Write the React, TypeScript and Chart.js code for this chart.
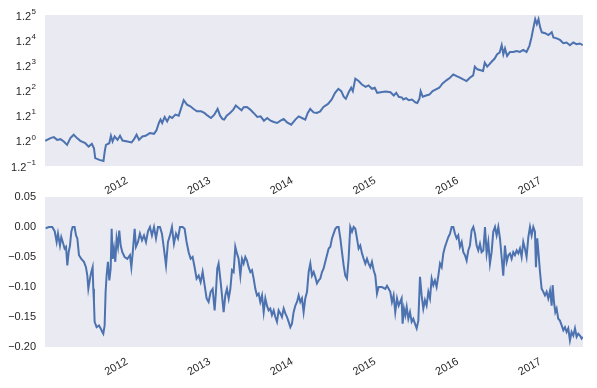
import React, { useEffect, useRef } from "react";
import { Chart, registerables } from "chart.js";
Chart.register(...registerables);

// ---------- data ----------
const YEAR_TICKS = [2012, 2013, 2014, 2015, 2016, 2017];
const X_MIN = 2011.033;
const X_MAX = 2017.538;

const LOG_BASE = 1.2;
const TOP_EXPONENTS = [-1, 0, 1, 2, 3, 4, 5];
const DD_TICKS = [0.05, 0, -0.05, -0.1, -0.15, -0.2];

const TOP_DATES = [
  2011.035, 2011.1, 2011.14, 2011.18, 2011.22, 2011.26, 2011.3, 2011.34, 2011.38, 2011.42,
  2011.46, 2011.52, 2011.56, 2011.6, 2011.625, 2011.64, 2011.69, 2011.74, 2011.755, 2011.77,
  2011.81, 2011.83, 2011.85, 2011.875, 2011.91, 2011.94, 2011.97, 2012.03, 2012.08, 2012.11,
  2012.14, 2012.17, 2012.21, 2012.25, 2012.3, 2012.35, 2012.38, 2012.41, 2012.43, 2012.45,
  2012.48, 2012.51, 2012.54, 2012.57, 2012.61, 2012.65, 2012.68, 2012.71, 2012.75, 2012.79,
  2012.83, 2012.87, 2012.92, 2012.96, 2013.0, 2013.04, 2013.08, 2013.12, 2013.15, 2013.18,
  2013.2, 2013.23, 2013.27, 2013.31, 2013.34, 2013.375, 2013.41, 2013.435, 2013.475, 2013.515,
  2013.555, 2013.6, 2013.64, 2013.68, 2013.72, 2013.76, 2013.8, 2013.84, 2013.88, 2013.92,
  2013.96, 2014.01, 2014.06, 2014.1, 2014.14, 2014.18, 2014.21, 2014.24, 2014.28, 2014.32,
  2014.36, 2014.4, 2014.455, 2014.5, 2014.54, 2014.58, 2014.615, 2014.645, 2014.67, 2014.705,
  2014.735, 2014.755, 2014.785, 2014.825, 2014.865, 2014.91, 2014.945, 2014.985, 2015.02, 2015.05,
  2015.09, 2015.15, 2015.21, 2015.25, 2015.28, 2015.31, 2015.35, 2015.365, 2015.4, 2015.43,
  2015.47, 2015.51, 2015.535, 2015.56, 2015.575, 2015.6, 2015.64, 2015.68, 2015.72, 2015.76,
  2015.8, 2015.84, 2015.89, 2015.93, 2015.97, 2016.01, 2016.05, 2016.09, 2016.13, 2016.17,
  2016.21, 2016.23, 2016.26, 2016.29, 2016.33, 2016.35, 2016.38, 2016.405, 2016.43, 2016.47,
  2016.5, 2016.53, 2016.555, 2016.575, 2016.595, 2016.62, 2016.655, 2016.695, 2016.735, 2016.775,
  2016.815, 2016.855, 2016.89, 2016.915, 2016.935, 2016.96, 2016.98, 2017.0, 2017.02, 2017.04,
  2017.08, 2017.12, 2017.16, 2017.18, 2017.22, 2017.26, 2017.3, 2017.34, 2017.38, 2017.42,
  2017.46, 2017.5, 2017.535,
];
const TOP_VALUES = [
  1.0, 1.02, 1.027, 1.007, 1.012, 0.995, 0.971, 1.02, 1.045, 1.02,
  1.0, 0.983, 0.959, 0.978, 0.948, 0.882, 0.871, 0.864, 0.925, 0.971,
  0.983, 1.037, 0.995, 1.032, 1.007, 1.037, 1.002, 0.995, 0.988, 1.012,
  1.045, 1.007, 1.032, 1.037, 1.058, 1.052, 1.078, 1.138, 1.166, 1.138,
  1.189, 1.151, 1.194, 1.18, 1.209, 1.2, 1.269, 1.342, 1.3, 1.284,
  1.26, 1.238, 1.238, 1.224, 1.2, 1.18, 1.209, 1.26, 1.2, 1.171,
  1.166, 1.2, 1.224, 1.254, 1.291, 1.269, 1.247, 1.275, 1.278, 1.254,
  1.224, 1.189, 1.194, 1.157, 1.18, 1.157, 1.146, 1.138, 1.157, 1.171,
  1.143, 1.124, 1.166, 1.194, 1.18, 1.166, 1.224, 1.26, 1.229, 1.224,
  1.238, 1.278, 1.307, 1.349, 1.416, 1.458, 1.433, 1.376, 1.356, 1.422,
  1.469, 1.433, 1.569, 1.542, 1.504, 1.479, 1.494, 1.458, 1.469, 1.416,
  1.422, 1.429, 1.422, 1.389, 1.416, 1.376, 1.368, 1.349, 1.362, 1.342,
  1.349, 1.322, 1.316, 1.356, 1.433, 1.376, 1.389, 1.398, 1.433, 1.451,
  1.469, 1.515, 1.553, 1.58, 1.618, 1.599, 1.58, 1.56, 1.542, 1.58,
  1.607, 1.712, 1.679, 1.67, 1.658, 1.762, 1.712, 1.74, 1.77, 1.815,
  1.872, 1.896, 2.0, 1.872, 1.952, 1.85, 1.904, 1.904, 1.918, 1.904,
  1.932, 1.904, 1.99, 2.115, 2.247, 2.415, 2.331, 2.415, 2.275, 2.195,
  2.181, 2.151, 2.195, 2.115, 2.101, 2.077, 2.029, 2.039, 2.0, 2.039,
  2.014, 2.025, 2.0,
];

const DD_DATES = [
  2011.041, 2011.081, 2011.121, 2011.15, 2011.174, 2011.19, 2011.214, 2011.23, 2011.254, 2011.27,
  2011.287, 2011.303, 2011.319, 2011.335, 2011.351, 2011.367, 2011.391, 2011.408, 2011.424, 2011.444,
  2011.472, 2011.504, 2011.528, 2011.545, 2011.557, 2011.577, 2011.593, 2011.609, 2011.617, 2011.625,
  2011.633, 2011.657, 2011.686, 2011.706, 2011.726, 2011.738, 2011.754, 2011.766, 2011.778, 2011.794,
  2011.811, 2011.827, 2011.839, 2011.851, 2011.867, 2011.883, 2011.899, 2011.915, 2011.931, 2011.948,
  2011.968, 2011.996, 2012.028, 2012.06, 2012.077, 2012.093, 2012.117, 2012.133, 2012.157, 2012.181,
  2012.206, 2012.23, 2012.254, 2012.278, 2012.302, 2012.326, 2012.351, 2012.375, 2012.399, 2012.423,
  2012.447, 2012.471, 2012.496, 2012.52, 2012.544, 2012.568, 2012.592, 2012.617, 2012.641, 2012.665,
  2012.697, 2012.721, 2012.745, 2012.77, 2012.794, 2012.818, 2012.842, 2012.866, 2012.891, 2012.915,
  2012.939, 2012.963, 2012.987, 2013.011, 2013.036, 2013.06, 2013.084, 2013.1, 2013.116, 2013.132,
  2013.157, 2013.193, 2013.213, 2013.233, 2013.254, 2013.274, 2013.294, 2013.314, 2013.334, 2013.354,
  2013.374, 2013.395, 2013.415, 2013.435, 2013.455, 2013.475, 2013.495, 2013.516, 2013.536, 2013.556,
  2013.576, 2013.596, 2013.616, 2013.636, 2013.657, 2013.677, 2013.697, 2013.717, 2013.737, 2013.757,
  2013.777, 2013.798, 2013.818, 2013.838, 2013.858, 2013.878, 2013.898, 2013.919, 2013.939, 2013.959,
  2013.979, 2013.999, 2014.019, 2014.039, 2014.06, 2014.08, 2014.1, 2014.12, 2014.14, 2014.16,
  2014.18, 2014.201, 2014.221, 2014.241, 2014.261, 2014.281, 2014.301, 2014.321, 2014.342, 2014.362,
  2014.382, 2014.402, 2014.422, 2014.442, 2014.463, 2014.483, 2014.503, 2014.523, 2014.543, 2014.563,
  2014.583, 2014.604, 2014.624, 2014.644, 2014.664, 2014.684, 2014.704, 2014.724, 2014.745, 2014.765,
  2014.785, 2014.805, 2014.825, 2014.845, 2014.866, 2014.886, 2014.906, 2014.926, 2014.946, 2014.966,
  2014.986, 2015.007, 2015.027, 2015.047, 2015.067, 2015.087, 2015.107, 2015.148, 2015.168, 2015.188,
  2015.208, 2015.228, 2015.248, 2015.268, 2015.289, 2015.309, 2015.345, 2015.357, 2015.373, 2015.39,
  2015.406, 2015.426, 2015.446, 2015.466, 2015.486, 2015.506, 2015.527, 2015.547, 2015.567, 2015.587,
  2015.607, 2015.627, 2015.647, 2015.668, 2015.688, 2015.708, 2015.728, 2015.748, 2015.768, 2015.789,
  2015.809, 2015.829, 2015.849, 2015.869, 2015.889, 2015.909, 2015.93, 2015.95, 2015.97, 2015.99,
  2016.01, 2016.03, 2016.05, 2016.071, 2016.091, 2016.111, 2016.131, 2016.151, 2016.171, 2016.191,
  2016.212, 2016.232, 2016.252, 2016.272, 2016.292, 2016.312, 2016.333, 2016.353, 2016.373, 2016.393,
  2016.413, 2016.433, 2016.453, 2016.474, 2016.494, 2016.514, 2016.534, 2016.554, 2016.574, 2016.594,
  2016.615, 2016.635, 2016.655, 2016.675, 2016.695, 2016.715, 2016.736, 2016.756, 2016.776, 2016.796,
  2016.816, 2016.836, 2016.856, 2016.877, 2016.897, 2016.917, 2016.937, 2016.957, 2016.969, 2016.985,
  2017.002, 2017.018, 2017.038, 2017.058, 2017.078, 2017.098, 2017.118, 2017.139, 2017.159, 2017.171,
  2017.187, 2017.203, 2017.219, 2017.239, 2017.259, 2017.28, 2017.3, 2017.32, 2017.34, 2017.36,
  2017.38, 2017.4, 2017.421, 2017.441, 2017.461, 2017.481, 2017.501, 2017.521, 2017.535,
];
const DD_VALUES = [
  -0.002, 0, 0, -0.007, -0.025, -0.011, -0.031, -0.017, -0.028, -0.036,
  -0.033, -0.064, -0.042, -0.031, -0.008, 0, 0, -0.014, -0.019, -0.047,
  -0.053, -0.058, -0.067, -0.081, -0.103, -0.086, -0.075, -0.067, -0.103, -0.125,
  -0.158, -0.167, -0.164, -0.169, -0.175, -0.178, -0.164, -0.108, -0.081, -0.058,
  -0.089, -0.069, -0.003, -0.053, -0.036, -0.058, -0.019, -0.033, -0.006, -0.031,
  -0.042, -0.05, -0.053, -0.047, -0.067, -0.044, -0.003, -0.033, -0.025, -0.011,
  -0.022, -0.014, -0.025, -0.007, 0, -0.014, 0, -0.019, 0, 0,
  -0.011, -0.036, -0.064, -0.025, -0.014, 0, -0.028, -0.011, -0.019, 0,
  0, -0.003, -0.025, -0.042, -0.053, -0.05, -0.067, -0.086, -0.081, -0.092,
  -0.075, -0.097, -0.119, -0.125, -0.108, -0.103, -0.139, -0.108, -0.069, -0.061,
  -0.092, -0.142, -0.114, -0.103, -0.119, -0.103, -0.072, -0.075, -0.033, -0.044,
  -0.053, -0.081, -0.053, -0.061, -0.05, -0.056, -0.067, -0.075, -0.072, -0.086,
  -0.103, -0.114, -0.111, -0.125, -0.114, -0.142, -0.119, -0.131, -0.139, -0.136,
  -0.147, -0.139, -0.15, -0.158, -0.139, -0.144, -0.15, -0.136, -0.144, -0.15,
  -0.158, -0.167, -0.161, -0.142, -0.131, -0.125, -0.114, -0.125, -0.119, -0.142,
  -0.119, -0.108, -0.075, -0.061, -0.081, -0.075, -0.083, -0.094, -0.089, -0.086,
  -0.075, -0.069, -0.058, -0.047, -0.036, -0.033, -0.019, -0.011, -0.003, 0,
  0, -0.019, -0.042, -0.064, -0.081, -0.086, -0.053, 0, -0.008, 0,
  -0.003, -0.019, -0.036, -0.031, -0.044, -0.053, -0.061, -0.053, -0.061, -0.067,
  -0.058, -0.072, -0.081, -0.111, -0.1, -0.1, -0.1, -0.103, -0.098, -0.103,
  -0.108, -0.125, -0.114, -0.142, -0.119, -0.131, -0.119, -0.161, -0.136, -0.147,
  -0.133, -0.153, -0.142, -0.158, -0.153, -0.161, -0.169, -0.156, -0.083, -0.114,
  -0.136, -0.122, -0.131, -0.108, -0.119, -0.086, -0.097, -0.089, -0.1, -0.081,
  -0.061, -0.067, -0.044, -0.033, -0.025, -0.017, -0.011, 0, 0, -0.011,
  -0.019, -0.014, -0.033, -0.025, -0.042, -0.047, -0.056, -0.039, -0.031, -0.006,
  0, -0.011, -0.031, -0.039, -0.028, -0.042, -0.039, 0, -0.044, -0.025,
  -0.061, -0.042, -0.008, 0, -0.014, 0, -0.019, -0.05, -0.081, -0.031,
  -0.058, -0.047, -0.044, -0.053, -0.042, -0.047, -0.039, -0.044, -0.036, -0.05,
  -0.025, -0.036, -0.05, -0.017, 0, -0.014, 0, -0.008, -0.067, -0.019,
  -0.047, -0.075, -0.103, -0.108, -0.114, -0.108, -0.119, -0.106, -0.131, -0.097,
  -0.125, -0.142, -0.136, -0.153, -0.156, -0.164, -0.172, -0.167, -0.175, -0.169,
  -0.189, -0.175, -0.181, -0.169, -0.183, -0.178, -0.181, -0.186, -0.183,
];

// ---------- style ----------
const W = 597;
const H = 388;
const X_AXIS_H = 34;
const FONT = '"Liberation Sans", Arial, "DejaVu Sans", sans-serif';
const TEXT = "#262626";
const LINE = "#4C72B0";
const FACE = "#EAEAF2";

const bgPlugin = {
  id: "plotBg",
  beforeDraw(chart: any) {
    const { ctx, chartArea: a } = chart;
    ctx.save();
    ctx.fillStyle = FACE;
    ctx.fillRect(a.left, a.top, a.right - a.left, a.bottom - a.top);
    ctx.restore();
  },
};

const powLabelPlugin = {
  id: "powLabels",
  afterDraw(chart: any) {
    const s = chart.scales.y;
    const ctx = chart.ctx;
    ctx.save();
    ctx.fillStyle = TEXT;
    ctx.textBaseline = "middle";
    const right = s.right - 9;
    for (const k of TOP_EXPONENTS) {
      const y = s.getPixelForValue(Math.pow(LOG_BASE, k));
      const exp = k < 0 ? "\u2212" + Math.abs(k) : String(k);
      ctx.font = `8px ${FONT}`;
      const ew = ctx.measureText(exp).width;
      ctx.textAlign = "left";
      ctx.fillText(exp, right - ew, y - 3.5);
      ctx.font = `11px ${FONT}`;
      ctx.textAlign = "right";
      ctx.fillText(String(LOG_BASE), right - ew - 0.5, y + 1.5);
    }
    ctx.restore();
  },
};

function xScale(): any {
  return {
    type: "linear",
    min: X_MIN,
    max: X_MAX,
    grid: { display: false, drawTicks: false },
    border: { display: false },
    afterBuildTicks: (s: any) => {
      s.ticks = YEAR_TICKS.map((v) => ({ value: v }));
    },
    afterFit: (s: any) => {
      s.height = X_AXIS_H;
    },
    ticks: {
      autoSkip: false,
      minRotation: 30,
      maxRotation: 30,
      padding: 8,
      labelOffset: 2,
      color: TEXT,
      font: { family: FONT, size: 11 },
      callback: (v: any) => String(v),
    },
  };
}

function fmtDD(v: number) {
  const s = Math.abs(v).toFixed(2);
  return v < -1e-9 ? "\u2212" + s : s;
}

export default function App() {
  const topRef = useRef<HTMLCanvasElement>(null);
  const botRef = useRef<HTMLCanvasElement>(null);

  useEffect(() => {
    const topChart = new Chart(topRef.current as HTMLCanvasElement, {
      type: "line",
      data: {
        datasets: [
          {
            data: TOP_DATES.map((x, i) => ({ x, y: TOP_VALUES[i] })),
            borderColor: LINE,
            borderWidth: 2,
            pointRadius: 0,
            tension: 0,
            fill: false,
          },
        ],
      },
      options: {
        animation: false,
        responsive: false,
        maintainAspectRatio: false,
        events: [],
        layout: { padding: { left: 0, right: 14, top: 15, bottom: H - 166 - X_AXIS_H } },
        plugins: { legend: { display: false }, tooltip: { enabled: false } },
        scales: {
          x: xScale(),
          y: {
            type: "logarithmic",
            min: Math.pow(LOG_BASE, TOP_EXPONENTS[0]),
            max: Math.pow(LOG_BASE, TOP_EXPONENTS[TOP_EXPONENTS.length - 1]),
            grid: { display: false, drawTicks: false },
            border: { display: false },
            ticks: { display: false },
            afterBuildTicks: (s: any) => {
              s.ticks = TOP_EXPONENTS.map((k) => ({ value: Math.pow(LOG_BASE, k) }));
            },
            afterFit: (s: any) => {
              s.width = 45;
            },
          },
        },
      } as any,
      plugins: [bgPlugin, powLabelPlugin],
    });

    const botChart = new Chart(botRef.current as HTMLCanvasElement, {
      type: "line",
      data: {
        datasets: [
          {
            data: DD_DATES.map((x, i) => ({ x, y: DD_VALUES[i] })),
            borderColor: LINE,
            borderWidth: 2,
            pointRadius: 0,
            tension: 0,
            fill: false,
          },
        ],
      },
      options: {
        animation: false,
        responsive: false,
        maintainAspectRatio: false,
        events: [],
        layout: { padding: { left: 0, right: 14, top: 197, bottom: H - 347 - X_AXIS_H } },
        plugins: { legend: { display: false }, tooltip: { enabled: false } },
        scales: {
          x: xScale(),
          y: {
            type: "linear",
            min: DD_TICKS[DD_TICKS.length - 1],
            max: DD_TICKS[0],
            grid: { display: false, drawTicks: false },
            border: { display: false },
            afterBuildTicks: (s: any) => {
              s.ticks = DD_TICKS.map((v) => ({ value: v }));
            },
            afterFit: (s: any) => {
              s.width = 45;
            },
            ticks: {
              padding: 9,
              color: TEXT,
              font: { family: FONT, size: 11 },
              callback: (v: any) => fmtDD(Number(v)),
            },
          },
        },
      } as any,
      plugins: [bgPlugin],
    });

    return () => {
      topChart.destroy();
      botChart.destroy();
    };
  }, []);

  const canvasStyle: React.CSSProperties = {
    position: "absolute",
    left: 0,
    top: 0,
    width: W,
    height: H,
    display: "block",
  };

  return (
    <div
      style={{
        position: "fixed",
        left: 0,
        top: 0,
        width: W,
        height: H,
        background: "#ffffff",
        overflow: "hidden",
      }}
    >
      <canvas ref={topRef} width={W} height={H} style={canvasStyle} />
      <canvas ref={botRef} width={W} height={H} style={canvasStyle} />
    </div>
  );
}
